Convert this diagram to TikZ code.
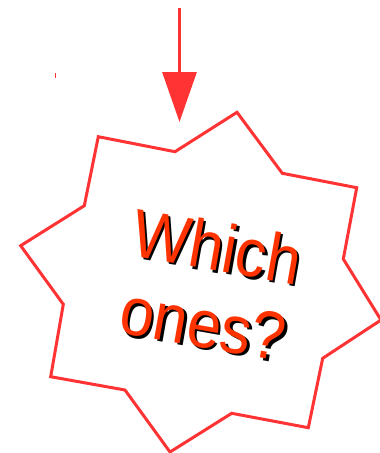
\documentclass[tikz,border=0pt]{standalone}
\usepackage{fontspec}
\setmainfont{Liberation Sans}
\usetikzlibrary{arrows.meta}
\definecolor{burstRed}{HTML}{FF3333}
\definecolor{burstText}{HTML}{FF3300}

\begin{document}
\begin{tikzpicture}[
		x=1pt, y=-1pt,
		every node/.style={font=\fontsize{68}{78}\selectfont, align=center, inner sep=0pt},
		burst/.style={draw=burstRed, line width=3pt, line join=miter},
		textfront/.style={text=burstText, rotate=-10, xscale=0.9},
		textshadow/.style={text=black, rotate=-10, xscale=0.9},
		arrow/.style={-{Triangle[width=34pt, length=50pt]}, line width=3pt, draw=burstRed}
	]
		\useasboundingbox (0,0) rectangle (380,453);
		\clip (0,0) rectangle (380,453);

		\draw[burst] (175,151.7) -- (237,112.3) -- (282.3,173.3) -- (356.7,187.7)
			-- (343.3,259) -- (381,320) -- (322.7,358.3) -- (308.3,427.7)
			-- (231.7,413.3) -- (170,452) -- (125,390) -- (50.7,376.7)
			-- (63.3,304.3) -- (20.7,245.7) -- (84.3,205.7) -- (98.3,136.7) -- cycle;

		\node[textshadow] (qshadow) at (212.8,287.2) {Which\\ones?};
		\node[textfront] (qtext) at (210.3,284.7) {Which\\ones?};

		\coordinate (arrowStart) at (179.5,8);
		\coordinate (arrowTip) at (179.5,122);
		\draw[arrow] (arrowStart) -- (arrowTip);

		\draw[burstRed, line width=1pt] (55.5,73) -- (55.5,78);
	\end{tikzpicture}
\end{document}
